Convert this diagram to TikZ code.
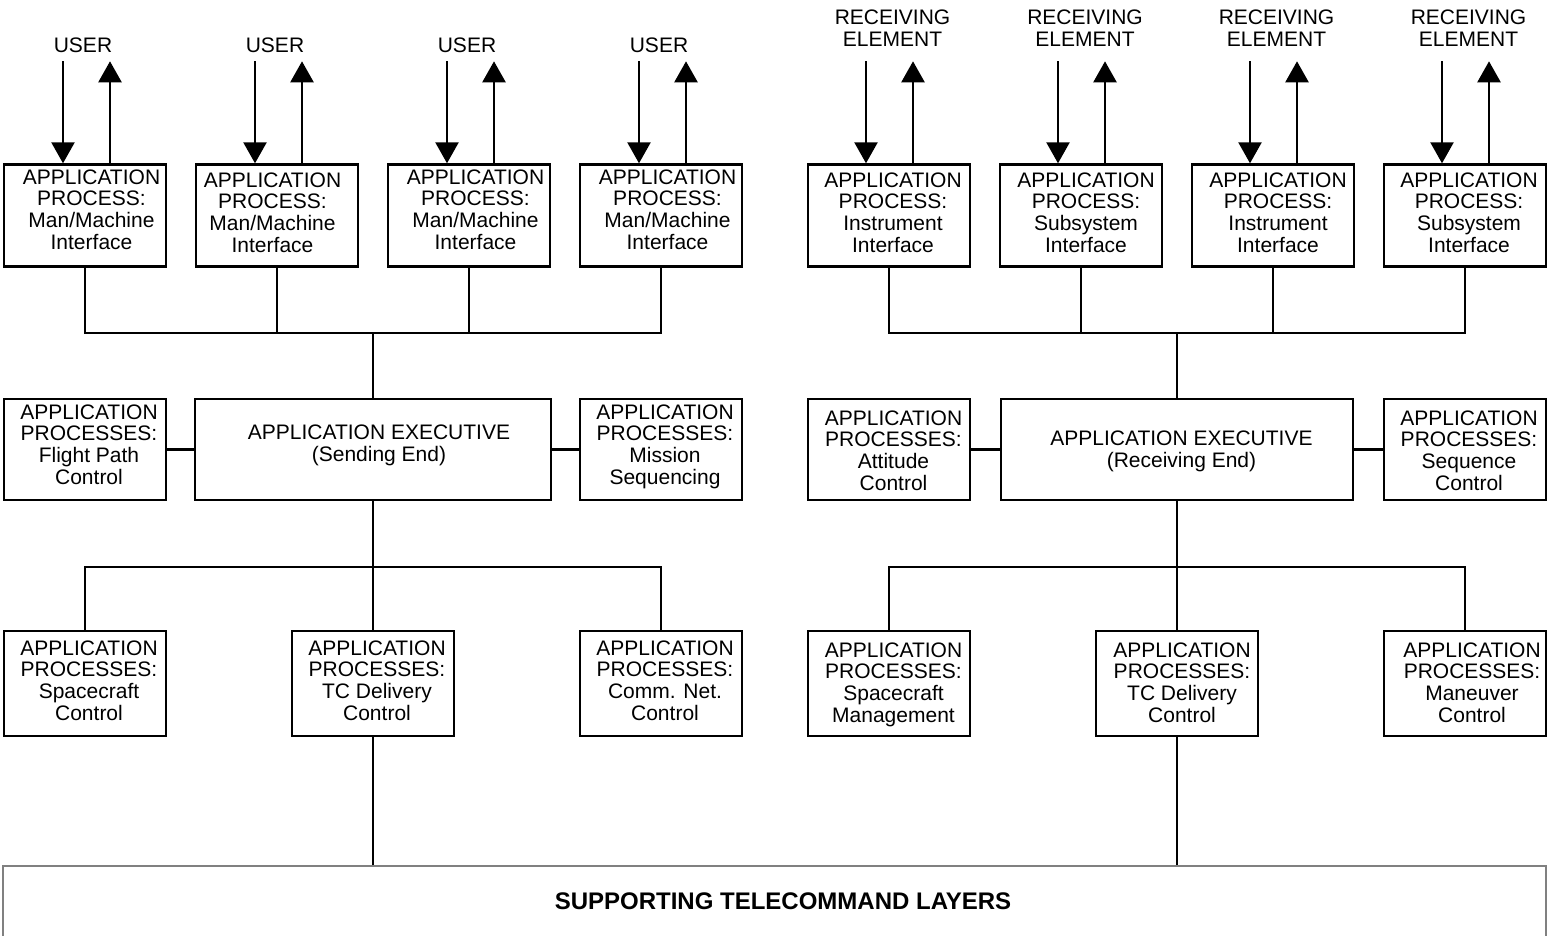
\documentclass[tikz,border=0pt]{standalone}
\usepackage{fontspec}
\setmainfont{Liberation Sans}
\usetikzlibrary{arrows.meta}
% #1 = twice the horizontal text shift, #2 = vertical text lift, #3 = lines
\newcommand{\TT}[3]{\hspace*{#1}\raisebox{#2}[\height][\depth]{\begin{tabular}{@{}c@{}}#3\end{tabular}}}
\newcommand{\T}[1]{\begin{tabular}{@{}c@{}}#1\end{tabular}}
\begin{document}
\begin{tikzpicture}[x=1pt,y=-1pt,
  ln/.style={line width=2.4pt},
  arr/.style={line width=2.4pt,-{Triangle[width=23pt,length=21pt]}},
  box/.style={draw,line width=2.4pt,inner sep=0pt,minimum width=162pt,minimum height=102pt,
    font=\fontsize{21}{21.5}\selectfont},
  lowbox/.style={box,minimum height=105pt},
  midbox/.style={box,minimum height=101pt},
  lbl/.style={inner sep=0pt,font=\fontsize{21}{21.5}\selectfont}]
\useasboundingbox (0,0) rectangle (1549,935);
\clip (0,0) rectangle (1549,935);
% ---------- top row, left ----------
\node[box] (t1) at (85,215.5)  {\TT{13pt}{3pt}{APPLICATION\\PROCESS:\\Man/Machine\\Interface}};
\node[box] (t2) at (277,215.5) {\TT{-9pt}{0pt}{APPLICATION\\PROCESS:\\Man/Machine\\Interface}};
\node[box] (t3) at (469,215.5) {\TT{13pt}{3pt}{APPLICATION\\PROCESS:\\Man/Machine\\Interface}};
\node[box] (t4) at (661,215.5) {\TT{13pt}{3pt}{APPLICATION\\PROCESS:\\Man/Machine\\Interface}};
\foreach \n/\x in {u1/83,u2/275,u3/467,u4/659}{
  \node[lbl] (\n) at (\x,45) {USER};
}
% ---------- top row, right ----------
\node[box] (r1) at (889,215.5)  {\TT{8pt}{0pt}{APPLICATION\\PROCESS:\\Instrument\\Interface}};
\node[box] (r2) at (1081,215.5) {\TT{10pt}{0pt}{APPLICATION\\PROCESS:\\Subsystem\\Interface}};
\node[box] (r3) at (1273,215.5) {\TT{10pt}{0pt}{APPLICATION\\PROCESS:\\Instrument\\Interface}};
\node[box] (r4) at (1465,215.5) {\TT{8pt}{0pt}{APPLICATION\\PROCESS:\\Subsystem\\Interface}};
\foreach \n/\x in {e1/892.5,e2/1085,e3/1276.5,e4/1468.5}{
  \node[lbl] (\n) at (\x,31) {\T{RECEIVING\\ELEMENT}};
}
% arrows
\foreach \n in {t1,t2,t3,t4}{
  \draw[arr] ([shift={(-22,-102)}]\n.north) -- ([xshift=-22pt]\n.north);
  \draw[arr] ([xshift=25pt]\n.north) -- ([shift={(25,-102)}]\n.north);
}
\foreach \n in {r1,r2,r3,r4}{
  \draw[arr] ([shift={(-23,-102)}]\n.north) -- ([xshift=-23pt]\n.north);
  \draw[arr] ([xshift=24pt]\n.north) -- ([shift={(24,-102)}]\n.north);
}
% ---------- middle row ----------
\node[midbox,minimum width=356pt] (eL) at (373,449.5) {\TT{12pt}{3pt}{APPLICATION EXECUTIVE\\(Sending End)}};
\node[midbox] (mL1) at (85,449.5)  {\TT{8pt}{2pt}{APPLICATION\\PROCESSES:\\Flight Path\\Control}};
\node[midbox] (mL2) at (661,449.5) {\TT{8pt}{2pt}{APPLICATION\\PROCESSES:\\Mission\\Sequencing}};
\node[midbox,minimum width=352pt] (eR) at (1177,449.5) {\TT{9pt}{-3pt}{APPLICATION EXECUTIVE\\(Receiving End)}};
\node[midbox] (mR1) at (889,449.5)  {\TT{9pt}{-4pt}{APPLICATION\\PROCESSES:\\Attitude\\Control}};
\node[midbox] (mR2) at (1465,449.5) {\TT{8pt}{-4pt}{APPLICATION\\PROCESSES:\\Sequence\\Control}};
\draw[ln] (mL1) -- (eL);
\draw[ln] (eL) -- (mL2);
\draw[ln] (mR1) -- (eR);
\draw[ln] (eR) -- (mR2);
% ---------- lower row ----------
\node[lowbox] (b1) at (85,683.5)   {\TT{8pt}{0pt}{APPLICATION\\PROCESSES:\\Spacecraft\\Control}};
\node[lowbox] (b2) at (373,683.5)  {\TT{8pt}{0pt}{APPLICATION\\PROCESSES:\\TC Delivery\\Control}};
\node[lowbox] (b3) at (661,683.5)  {\TT{8pt}{0pt}{APPLICATION\\PROCESSES:\\Comm. Net.\\Control}};
\node[lowbox] (c1) at (889,683.5)  {\TT{9pt}{-2pt}{APPLICATION\\PROCESSES:\\Spacecraft\\Management}};
\node[lowbox] (c2) at (1177,683.5) {\TT{10pt}{-2pt}{APPLICATION\\PROCESSES:\\TC Delivery\\Control}};
\node[lowbox] (c3) at (1465,683.5) {\TT{14pt}{-2pt}{APPLICATION\\PROCESSES:\\Maneuver\\Control}};
% ---------- buses ----------
\coordinate (busTL) at (373,333);
\coordinate (busTR) at (1177,333);
\coordinate (busBL) at (373,567);
\coordinate (busBR) at (1177,567);
\draw[ln] (t1.south) |- (busTL) -| (t4.south);
\draw[ln] (t2.south) -- (t2.south |- busTL);
\draw[ln] (t3.south) -- (t3.south |- busTL);
\draw[ln] (busTL) -- (eL.north);
\draw[ln] (r1.south) |- (busTR) -| (r4.south);
\draw[ln] (r2.south) -- (r2.south |- busTR);
\draw[ln] (r3.south) -- (r3.south |- busTR);
\draw[ln] (busTR) -- (eR.north);
\draw[ln] (b1.north) |- (busBL) -| (b3.north);
\draw[ln] (eL.south) -- (b2.north);
\draw[ln] (c1.north) |- (busBR) -| (c3.north);
\draw[ln] (eR.south) -- (c2.north);
% ---------- supporting layers ----------
\node[draw=black!50,line width=2.4pt,minimum width=1543pt,minimum height=88pt,inner sep=0pt] (sup) at (774.5,910) {};
\node[inner sep=0pt,font=\bfseries\fontsize{24}{25}\selectfont] (suptxt) at (783,901) {SUPPORTING TELECOMMAND LAYERS};
\draw[ln] (b2.south) -- (b2.south |- sup.north);
\draw[ln] (c2.south) -- (c2.south |- sup.north);
\end{tikzpicture}
\end{document}
